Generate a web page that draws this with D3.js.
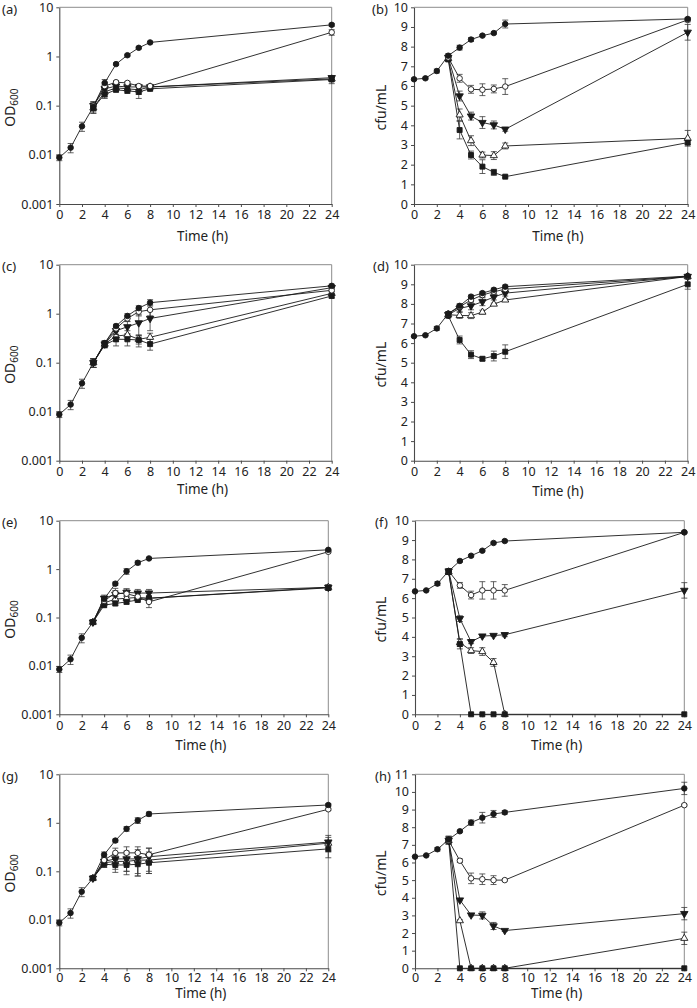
<!DOCTYPE html>
<html><head><meta charset="utf-8">
<script src="https://cdn.jsdelivr.net/npm/d3@7"></script>
<style>
html,body{margin:0;padding:0;background:#fff;}
svg{display:block;font-family:"Noto Sans","Open Sans",sans-serif;}
</style></head>
<body>
<svg id="chart" width="697" height="1008"></svg>
<script>
// ---------- data ----------
const time = [0, 1, 2, 3, 4, 5, 6, 7, 8, 24];
const xTickValues = [0, 2, 4, 6, 8, 10, 12, 14, 16, 18, 20, 22, 24];
const odTickValues = [0.001, 0.01, 0.1, 1, 10];
const odTickLabels = ["0.001", "0.01", "0.1", "1", "10"];
const n = null;

// panel (a) OD600
const a_ctrl = [0.0088, 0.014, 0.038, 0.095, 0.29, 0.70, 1.06, 1.5, 1.93, 4.4];
const a_ctrl_sd = [0.0012, 0.003, 0.008, 0.02, 0.05, 0.03, 0.05, 0.07, 0.1, 0.3];
const a_oc = [n, n, n, 0.1, 0.25, 0.30, 0.29, 0.25, 0.25, 3.1];
const a_oc_sd = [0, 0, 0, 0.02, 0.04, 0.02, 0.02, 0.02, 0.02, 0.4];
const a_dt = [n, n, n, 0.1, 0.22, 0.25, 0.24, 0.24, 0.24, 0.37];
const a_dt_sd = [0, 0, 0, 0.02, 0.05, 0.03, 0.03, 0.03, 0.03, 0.03];
const a_ot = [n, n, n, 0.09, 0.19, 0.23, 0.22, 0.21, 0.24, 0.35];
const a_ot_sd = [0, 0, 0, 0.02, 0.04, 0.02, 0.02, 0.04, 0.02, 0.03];
const a_sq = [n, n, n, 0.09, 0.17, 0.21, 0.20, 0.19, 0.22, 0.34];
const a_sq_sd = [0, 0, 0, 0.02, 0.03, 0.02, 0.02, 0.05, 0.02, 0.06];

// panel (b) cfu/mL
const b_ctrl = [6.34, 6.39, 6.76, 7.54, 7.95, 8.36, 8.56, 8.69, 9.15, 9.41];
const b_ctrl_sd = [0.05, 0.05, 0.1, 0.1, 0.12, 0.1, 0.05, 0.05, 0.2, 0.05];
const b_oc = [n, n, n, 7.45, 6.39, 5.83, 5.81, 5.85, 5.97, 9.36];
const b_oc_sd = [0, 0, 0, 0.1, 0.2, 0.2, 0.3, 0.2, 0.4, 0.1];
const b_dt = [n, n, n, 7.45, 5.49, 4.47, 4.14, 4.02, 3.80, 8.73];
const b_dt_sd = [0, 0, 0, 0.1, 0.25, 0.2, 0.3, 0.2, 0.1, 0.4];
const b_ot = [n, n, n, 7.4, 4.53, 3.22, 2.49, 2.46, 2.95, 3.34];
const b_ot_sd = [0, 0, 0, 0.1, 0.3, 0.25, 0.15, 0.2, 0.15, 0.4];
const b_sq = [n, n, n, 7.35, 3.76, 2.49, 1.9, 1.61, 1.39, 3.12];
const b_sq_sd = [0, 0, 0, 0.1, 0.45, 0.2, 0.35, 0.15, 0.05, 0.1];

// panel (c) OD600
const c_ctrl = [0.0088, 0.014, 0.038, 0.1, 0.25, 0.56, 0.9, 1.3, 1.68, 3.7];
const c_ctrl_sd = [0.0012, 0.003, 0.008, 0.02, 0.03, 0.05, 0.1, 0.15, 0.25, 0.3];
const c_oc = [n, n, n, 0.1, 0.25, 0.5, 0.8, 1.1, 1.2, 3.0];
const c_oc_sd = [0, 0, 0, 0.02, 0.03, 0.05, 0.1, 0.2, 0.3, 0.2];
const c_dt = [n, n, n, 0.1, 0.24, 0.45, 0.54, 0.65, 0.8, 3.4];
const c_dt_sd = [0, 0, 0, 0.02, 0.03, 0.08, 0.15, 0.3, 0.35, 0.2];
const c_ot = [n, n, n, 0.1, 0.24, 0.35, 0.37, 0.3, 0.33, 2.6];
const c_ot_sd = [0, 0, 0, 0.02, 0.03, 0.08, 0.08, 0.06, 0.07, 0.2];
const c_sq = [n, n, n, 0.1, 0.23, 0.3, 0.3, 0.29, 0.24, 2.3];
const c_sq_sd = [0, 0, 0, 0.02, 0.03, 0.08, 0.08, 0.08, 0.06, 0.2];

// panel (d) cfu/mL
const d_ctrl = [6.35, 6.4, 6.75, 7.5, 7.9, 8.37, 8.55, 8.72, 8.88, 9.42];
const d_ctrl_sd = [0.03, 0.03, 0.1, 0.1, 0.1, 0.08, 0.08, 0.08, 0.08, 0.05];
const d_oc = [n, n, n, 7.5, 7.85, 8.2, 8.45, 8.62, 8.75, 9.4];
const d_oc_sd = [0, 0, 0, 0.1, 0.1, 0.1, 0.1, 0.1, 0.1, 0.05];
const d_dt = [n, n, n, 7.45, 7.77, 7.9, 8.11, 8.35, 8.55, 9.4];
const d_dt_sd = [0, 0, 0, 0.1, 0.15, 0.2, 0.2, 0.15, 0.15, 0.05];
const d_ot = [n, n, n, 7.45, 7.41, 7.4, 7.58, 7.99, 8.2, 9.4];
const d_ot_sd = [0, 0, 0, 0.1, 0.15, 0.15, 0.1, 0.05, 0.05, 0.05];
const d_sq = [n, n, n, 7.4, 6.16, 5.41, 5.2, 5.34, 5.56, 9.0];
const d_sq_sd = [0, 0, 0, 0.1, 0.2, 0.2, 0.1, 0.25, 0.35, 0.25];

// panel (e) OD600
const e_ctrl = [0.0085, 0.0137, 0.038, 0.08, 0.24, 0.5, 0.9, 1.35, 1.66, 2.5];
const e_ctrl_sd = [0.0012, 0.003, 0.008, 0.008, 0.03, 0.04, 0.12, 0.12, 0.08, 0.1];
const e_oc = [n, n, n, 0.08, 0.22, 0.32, 0.31, 0.27, 0.21, 2.28];
const e_oc_sd = [0, 0, 0, 0.005, 0.03, 0.08, 0.08, 0.05, 0.05, 0.1];
const e_dt = [n, n, n, 0.08, 0.25, 0.3, 0.33, 0.32, 0.32, 0.42];
const e_dt_sd = [0, 0, 0, 0.005, 0.04, 0.06, 0.06, 0.06, 0.06, 0.05];
const e_ot = [n, n, n, 0.08, 0.2, 0.24, 0.25, 0.26, 0.25, 0.42];
const e_ot_sd = [0, 0, 0, 0.005, 0.03, 0.03, 0.03, 0.03, 0.03, 0.05];
const e_sq = [n, n, n, 0.08, 0.18, 0.195, 0.21, 0.23, 0.25, 0.41];
const e_sq_sd = [0, 0, 0, 0.005, 0.02, 0.02, 0.02, 0.02, 0.02, 0.04];

// panel (f) cfu/mL
const f_ctrl = [6.35, 6.4, 6.75, 7.4, 7.92, 8.19, 8.45, 8.85, 8.95, 9.4];
const f_ctrl_sd = [0.03, 0.03, 0.1, 0.1, 0.05, 0.05, 0.05, 0.05, 0.05, 0.05];
const f_oc = [n, n, n, 7.4, 6.66, 6.16, 6.4, 6.4, 6.4, 9.4];
const f_oc_sd = [0, 0, 0, 0.1, 0.15, 0.2, 0.45, 0.45, 0.3, 0.05];
const f_dt = [n, n, n, 7.4, 4.94, 3.75, 4.04, 4.07, 4.11, 6.4];
const f_dt_sd = [0, 0, 0, 0.1, 0.15, 0.1, 0.05, 0.05, 0.1, 0.4];
const f_ot = [n, n, n, 7.35, 3.7, 3.29, 3.24, 2.68, 0, n];
const f_ot_sd = [0, 0, 0, 0.1, 0.2, 0.15, 0.2, 0.2, 0, 0];
const f_sq = [n, n, n, 7.35, 3.63, 0, 0, 0, 0, 0];
const f_sq_sd = [0, 0, 0, 0.1, 0.25, 0, 0, 0, 0, 0];

// panel (g) OD600
const g_ctrl = [0.0087, 0.0138, 0.038, 0.072, 0.22, 0.43, 0.75, 1.12, 1.52, 2.33];
const g_ctrl_sd = [0.0012, 0.003, 0.008, 0.005, 0.03, 0.03, 0.08, 0.15, 0.15, 0.15];
const g_oc = [n, n, n, 0.072, 0.17, 0.24, 0.24, 0.24, 0.22, 1.9];
const g_oc_sd = [0, 0, 0, 0.005, 0.03, 0.06, 0.08, 0.08, 0.08, 0.1];
const g_dt = [n, n, n, 0.072, 0.16, 0.18, 0.18, 0.18, 0.2, 0.4];
const g_dt_sd = [0, 0, 0, 0.005, 0.03, 0.05, 0.08, 0.1, 0.1, 0.15];
const g_ot = [n, n, n, 0.072, 0.15, 0.16, 0.16, 0.17, 0.17, 0.38];
const g_ot_sd = [0, 0, 0, 0.005, 0.03, 0.05, 0.06, 0.08, 0.08, 0.12];
const g_sq = [n, n, n, 0.072, 0.14, 0.135, 0.135, 0.14, 0.15, 0.29];
const g_sq_sd = [0, 0, 0, 0.005, 0.02, 0.04, 0.05, 0.06, 0.06, 0.1];

// panel (h) cfu/mL
const h_ctrl = [6.33, 6.4, 6.75, 7.3, 7.77, 8.26, 8.54, 8.75, 8.84, 10.2];
const h_ctrl_sd = [0.03, 0.03, 0.1, 0.2, 0.05, 0.15, 0.3, 0.2, 0.1, 0.35];
const h_oc = [n, n, n, 7.25, 6.1, 5.1, 5.05, 5.0, 5.0, 9.25];
const h_oc_sd = [0, 0, 0, 0.2, 0.1, 0.3, 0.3, 0.25, 0.05, 0.05];
const h_dt = [n, n, n, 7.25, 3.87, 3.02, 3.0, 2.4, 2.14, 3.1];
const h_dt_sd = [0, 0, 0, 0.2, 0.05, 0.05, 0.2, 0.2, 0.05, 0.35];
const h_ot = [n, n, n, 7.25, 2.7, 0, 0, 0, 0, 1.7];
const h_ot_sd = [0, 0, 0, 0.2, 0.05, 0, 0, 0, 0, 0.35];
const h_sq = [n, n, n, 7.25, 0, 0, 0, 0, 0, 0];
const h_sq_sd = [0, 0, 0, 0.2, 0, 0, 0, 0, 0, 0];

// ---------- layout ----------
// series drawing order: open up-triangle, square, down-triangle, open circle, control
const panels = [
  {label:"(a)", log:true,  l:59.3, r:331.7, t:7.3,   b:204,   s:[a_ot,a_sq,a_dt,a_oc,a_ctrl], e:[a_ot_sd,a_sq_sd,a_dt_sd,a_oc_sd,a_ctrl_sd], lx:2,   tdy:32},
  {label:"(b)", log:false, ymax:10, l:414, r:687.7, t:7.3,   b:204,   s:[b_ot,b_sq,b_dt,b_oc,b_ctrl], e:[b_ot_sd,b_sq_sd,b_dt_sd,b_oc_sd,b_ctrl_sd], lx:372, tdy:32},
  {label:"(c)", log:true,  l:59.3, r:331.7, t:264.7, b:460.7, s:[c_ot,c_sq,c_dt,c_oc,c_ctrl], e:[c_ot_sd,c_sq_sd,c_dt_sd,c_oc_sd,c_ctrl_sd], lx:2,   tdy:29},
  {label:"(d)", log:false, ymax:10, l:414, r:687.7, t:264.7, b:460.7, s:[d_ot,d_sq,d_dt,d_oc,d_ctrl], e:[d_ot_sd,d_sq_sd,d_dt_sd,d_oc_sd,d_ctrl_sd], lx:373, tdy:31},
  {label:"(e)", log:true,  l:59.3, r:328.3, t:520.7, b:714.3, s:[e_ot,e_sq,e_dt,e_oc,e_ctrl], e:[e_ot_sd,e_sq_sd,e_dt_sd,e_oc_sd,e_ctrl_sd], lx:2,   tdy:31},
  {label:"(f)", log:false, ymax:10, l:415, r:684.3, t:520.7, b:714.3, s:[f_ot,f_sq,f_dt,f_oc,f_ctrl], e:[f_ot_sd,f_sq_sd,f_dt_sd,f_oc_sd,f_ctrl_sd], lx:375, tdy:31},
  {label:"(g)", log:true,  l:59.3, r:328.3, t:774.3, b:968.3, s:[g_ot,g_sq,g_dt,g_oc,g_ctrl], e:[g_ot_sd,g_sq_sd,g_dt_sd,g_oc_sd,g_ctrl_sd], lx:2,   tdy:25, xdy:-2},
  {label:"(h)", log:false, ymax:11, l:415, r:684.3, t:774.3, b:968.3, s:[h_ot,h_sq,h_dt,h_oc,h_ctrl], e:[h_ot_sd,h_sq_sd,h_dt_sd,h_oc_sd,h_ctrl_sd], lx:375, tdy:25, xdy:-2}
];

const markers = [
  {type:d3.symbolTriangle, size:22, fill:"#ffffff", rot:0},
  {type:d3.symbolSquare,   size:25, fill:"#1a1a1a", rot:0},
  {type:d3.symbolTriangle, size:24, fill:"#1a1a1a", rot:180},
  {type:d3.symbolCircle,   size:24, fill:"#ffffff", rot:0},
  {type:d3.symbolCircle,   size:24, fill:"#1a1a1a", rot:0}
];

const svg = d3.select("#chart");
const axisColor = "#4a4a4a";
const frameColor = "#8c8c8c";

panels.forEach(p => {
  const g = svg.append("g");
  const x = d3.scaleLinear().domain([0, 24]).range([p.l, p.r]);
  const y = p.log
    ? d3.scaleLog().domain([0.001, 10]).range([p.b, p.t])
    : d3.scaleLinear().domain([0, p.ymax]).range([p.b, p.t]);

  g.append("path")
    .attr("d", `M${p.l},${p.t}H${p.r}V${p.b}`)
    .attr("fill", "none").attr("stroke", frameColor).attr("stroke-width", 1);

  const xa = g.append("g").attr("transform", `translate(0,${p.b})`)
    .call(d3.axisBottom(x).tickValues(xTickValues).tickSize(3).tickPadding(3.5 + (p.xdy || 0)).tickSizeOuter(0));
  const yAxis = p.log
    ? d3.axisLeft(y).tickValues(odTickValues).tickFormat((d, i) => odTickLabels[i])
    : d3.axisLeft(y).tickValues(d3.range(0, p.ymax + 1)).tickFormat(d3.format("d"));
  const ya = g.append("g").attr("transform", `translate(${p.l},0)`)
    .call(yAxis.tickSize(3).tickPadding(3).tickSizeOuter(0));
  [xa, ya].forEach(a => {
    a.select(".domain").attr("stroke", axisColor).attr("stroke-width", 1.1);
    a.selectAll(".tick line").attr("stroke", axisColor);
    a.selectAll(".tick text").attr("fill", "#222").style("font-size", "12.5px")
      .style("font-family", '"Noto Sans","Open Sans",sans-serif');
  });

  g.append("text").attr("x", (p.l + p.r) / 2 + 7).attr("y", p.b + p.tdy)
    .attr("text-anchor", "middle").attr("dy", "0.35em")
    .style("font-size", "13.5px").attr("fill", "#222").text("Time (h)");

  const ymid = (p.t + p.b) / 2 + 2;
  if (p.log) {
    const t = g.append("text").attr("transform", `translate(10,${ymid}) rotate(-90)`)
      .attr("text-anchor", "middle").attr("dy", "0.35em")
      .style("font-size", "14px").attr("fill", "#222");
    t.append("tspan").text("OD");
    t.append("tspan").attr("dy", "3").style("font-size", "10px").text("600");
  } else {
    g.append("text").attr("transform", `translate(381,${ymid}) rotate(-90)`)
      .attr("text-anchor", "middle").attr("dy", "0.35em")
      .style("font-size", "14px").attr("fill", "#222").text("cfu/mL");
  }

  g.append("text").attr("x", p.lx).attr("y", p.t + 2).attr("dy", "0.35em")
    .style("font-size", "13px").attr("fill", "#222").text(p.label);

  const lo = p.log ? 0.0011 : 0;
  p.s.forEach((vals, si) => {
    const sd = p.e[si];
    const pts = time.map((t, i) => ({t, v: vals[i], e: sd[i]})).filter(d => d.v != null && d.e > 0);
    const eg = g.append("g").attr("stroke", "#3a3a3a").attr("stroke-width", 0.8).attr("fill", "none");
    eg.selectAll("path").data(pts).join("path")
      .attr("d", d => {
        const cx = x(d.t);
        const y1 = y(Math.max(d.v - d.e, lo)), y2 = y(d.v + d.e);
        return `M${cx},${y1}V${y2}M${cx - 3},${y1}H${cx + 3}M${cx - 3},${y2}H${cx + 3}`;
      });
  });

  const line = d3.line().defined(d => d.v != null).x(d => x(d.t)).y(d => y(d.v));
  p.s.forEach((vals) => {
    const pts = time.map((t, i) => ({t, v: vals[i]}));
    g.append("path").datum(pts).attr("d", line)
      .attr("fill", "none").attr("stroke", "#1a1a1a").attr("stroke-width", 0.9);
  });
  p.s.forEach((vals, si) => {
    const m = markers[si];
    const pts = time.map((t, i) => ({t, v: vals[i]})).filter(d => d.v != null);
    const sym = d3.symbol().type(m.type).size(m.size);
    g.append("g").selectAll("path").data(pts).join("path")
      .attr("d", sym)
      .attr("transform", d => `translate(${x(d.t)},${y(d.v)}) rotate(${m.rot})`)
      .attr("fill", m.fill).attr("stroke", "#1a1a1a").attr("stroke-width", 0.9);
  });
});
</script>
</body></html>
